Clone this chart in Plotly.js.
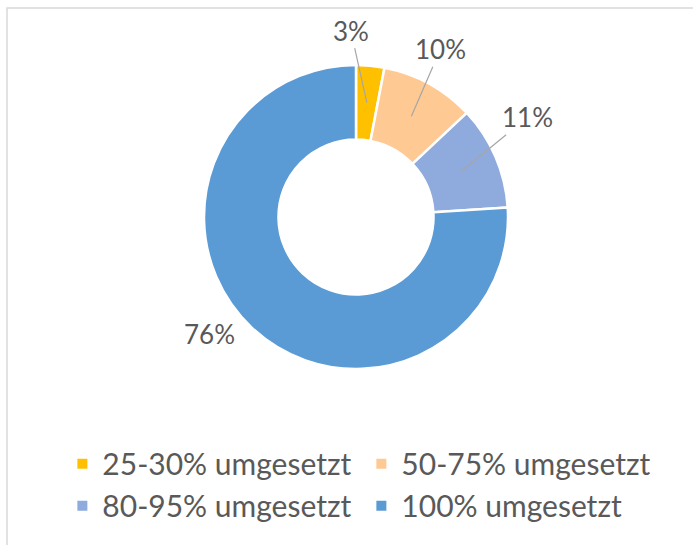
<!DOCTYPE html>
<html><head><meta charset="utf-8">
<script src="https://cdn.plot.ly/plotly-3.0.1.min.js"></script>
<style>html,body{margin:0;padding:0;background:#fff;}</style>
</head><body>
<div id="chart" style="width:693px;height:545px;"></div>
<script>
const categories = ["25-30% umgesetzt", "50-75% umgesetzt", "80-95% umgesetzt", "100% umgesetzt"];
const values = [3, 10, 11, 76];
const labelTexts = ["3%", "10%", "11%", "76%"];
const colors = ["#FFC000", "#FFC993", "#8FAADC", "#5B9BD5"];

const W = 693, H = 545;
const cx = 356, cy = 217, R = 152, hole = 0.51;
// label offsets (pixels) from the anchor point
const labelOffsets = [[-16, -72], [29, -67], [66, -54], [-42, 6]];
const anchorR = [115, 115, 115, 152];
const showLine = [true, true, true, false];

const total = values.reduce((a, b) => a + b, 0);
let cum = 0;
const annotations = values.map((v, i) => {
  const mid = (cum + v / 2) / total * 2 * Math.PI;
  cum += v;
  const px = cx + anchorR[i] * Math.sin(mid);
  const py = cy - anchorR[i] * Math.cos(mid);
  return {
    x: px / W, y: 1 - py / H, xref: 'paper', yref: 'paper',
    text: labelTexts[i], showarrow: true,
    ax: labelOffsets[i][0], ay: labelOffsets[i][1],
    arrowhead: 0, arrowwidth: 1.2,
    arrowcolor: showLine[i] ? '#a6a6a6' : 'rgba(0,0,0,0)',
    font: {family: 'Lato, sans-serif', size: 26, color: '#595959'}
  };
});

const data = [{
  type: 'pie', labels: categories, values: values, hole: hole,
  sort: false, direction: 'clockwise', rotation: 0,
  marker: {colors: colors, line: {color: '#ffffff', width: 2.5}},
  textinfo: 'none', hoverinfo: 'label+percent',
  domain: {x: [(cx - R) / W, (cx + R) / W], y: [1 - (cy + R) / H, 1 - (cy - R) / H]}
}];

const layout = {
  width: W, height: H,
  margin: {l: 0, r: 0, t: 0, b: 0, autoexpand: false},
  paper_bgcolor: '#ffffff',
  showlegend: true,
  legend: {
    orientation: 'h', x: 0.09, y: 0.197, xanchor: 'left', yanchor: 'top',
    entrywidth: 254, entrywidthmode: 'pixels',
    bgcolor: 'rgba(0,0,0,0)',
    font: {family: 'Lato, sans-serif', size: 30, color: '#595959'},
    itemsizing: 'constant'
  },
  annotations: annotations,
  shapes: [{type: 'rect', xref: 'paper', yref: 'paper',
    x0: 7 / W, x1: 1.02, y0: -0.02, y1: 1 - 8 / H,
    line: {color: '#d9d9d9', width: 1.5}}]
};

Plotly.newPlot('chart', data, layout, {displayModeBar: false, staticPlot: true});
</script>
</body></html>
